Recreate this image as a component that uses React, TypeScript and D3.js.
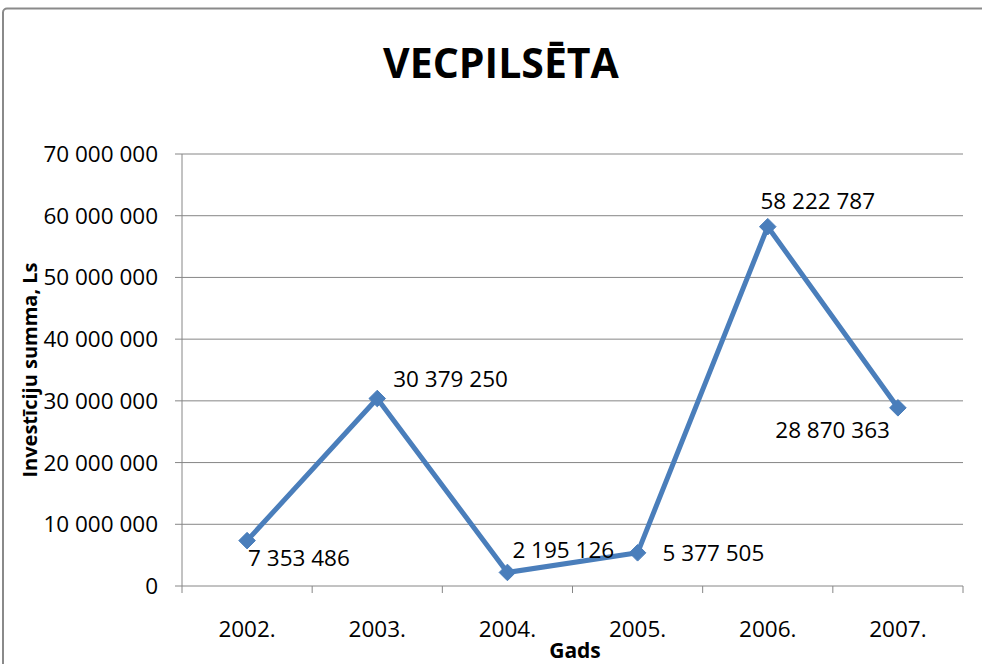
import React from "react";
import * as d3 from "d3";

const years = ["2002.", "2003.", "2004.", "2005.", "2006.", "2007."];
const values = [7353486, 30379250, 2195126, 5377505, 58222787, 28870363];
const yTicks = [0, 10000000, 20000000, 30000000, 40000000, 50000000, 60000000, 70000000];
const labelPos = ["br", "ar", "ar2", "r", "a", "bl"];

const W = 982, H = 664;
const left = 182, right = 963, top = 154, bottom = 586;
const FONT = "'Open Sans', sans-serif";
const FS = 22.5;

const fmt = (v: number) => d3.format(",")(v).replace(/,/g, " ");

export default function App() {
  const x = d3.scaleBand<string>().domain(years).range([left, right]);
  const y = d3.scaleLinear().domain([0, 70000000]).range([bottom, top]);
  const cx = (i: number) => (x(years[i]) as number) + x.bandwidth() / 2;
  const line = d3.line<number>().x((_, i) => cx(i)).y((d) => y(d));
  const diamond = d3.symbol().type(d3.symbolDiamond2).size(175)();

  const boundaries = years.map((yr) => x(yr) as number).concat([right]);

  return (
    <svg width={W} height={H} style={{ position: "absolute", left: 0, top: 0, background: "#fff" }}>
      <rect x={0} y={0} width={W} height={H} fill="#fff" />
      <rect x={3} y={8.5} width={1000} height={700} rx={4} fill="#fff" stroke="#8a8a8a" strokeWidth={2} />
      <text x={501} y={78} textAnchor="middle" fontFamily={FONT} fontWeight="bold" fontSize={41} fill="#000">VECPILSĒTA</text>

      {yTicks.map((t) => (
        <g key={t}>
          <line x1={left - 7} x2={right} y1={y(t)} y2={y(t)} stroke="#868686" strokeWidth={1} />
          <text x={158} y={y(t) + 8} textAnchor="end" fontFamily={FONT} fontSize={FS} fill="#000">{fmt(t)}</text>
        </g>
      ))}
      <line x1={left} x2={left} y1={top} y2={bottom} stroke="#868686" strokeWidth={1} />
      {boundaries.map((b, i) => (
        <line key={i} x1={b} x2={b} y1={bottom} y2={bottom + 7} stroke="#868686" strokeWidth={1} />
      ))}
      {years.map((yr, i) => (
        <text key={yr} x={cx(i)} y={637} textAnchor="middle" fontFamily={FONT} fontSize={FS} fill="#000">{yr}</text>
      ))}
      <text x={575} y={658} textAnchor="middle" fontFamily={FONT} fontWeight="bold" fontSize={21} fill="#000">Gads</text>
      <text transform={`translate(37,370) rotate(-90)`} textAnchor="middle" fontFamily={FONT} fontWeight="bold" fontSize={20} fill="#000">Investīciju summa, Ls</text>

      <path d={line(values) || ""} fill="none" stroke="#4a7ebb" strokeWidth={5} strokeLinejoin="round" />
      {values.map((v, i) => (
        <path key={i} d={diamond || ""} transform={`translate(${cx(i)},${y(v)})`} fill="#4a7ebb" stroke="#4a7ebb" strokeWidth={1} />
      ))}
      {values.map((v, i) => {
        const px = cx(i), py = y(v);
        const p = labelPos[i];
        let tx = px, ty = py, anchor: "start" | "middle" | "end" = "start";
        if (p === "br") { tx = px + 1; ty = py + 25; }
        else if (p === "ar") { tx = px + 16; ty = py - 12; }
        else if (p === "ar2") { tx = px + 5; ty = py - 14; }
        else if (p === "r") { tx = px + 25; ty = py + 8; }
        else if (p === "a") { tx = px + 50; ty = py - 18; anchor = "middle"; }
        else if (p === "bl") { tx = px - 8; ty = py + 30; anchor = "end"; }
        return (
          <text key={i} x={tx} y={ty} textAnchor={anchor} fontFamily={FONT} fontSize={FS} fill="#000">{fmt(v)}</text>
        );
      })}
    </svg>
  );
}
